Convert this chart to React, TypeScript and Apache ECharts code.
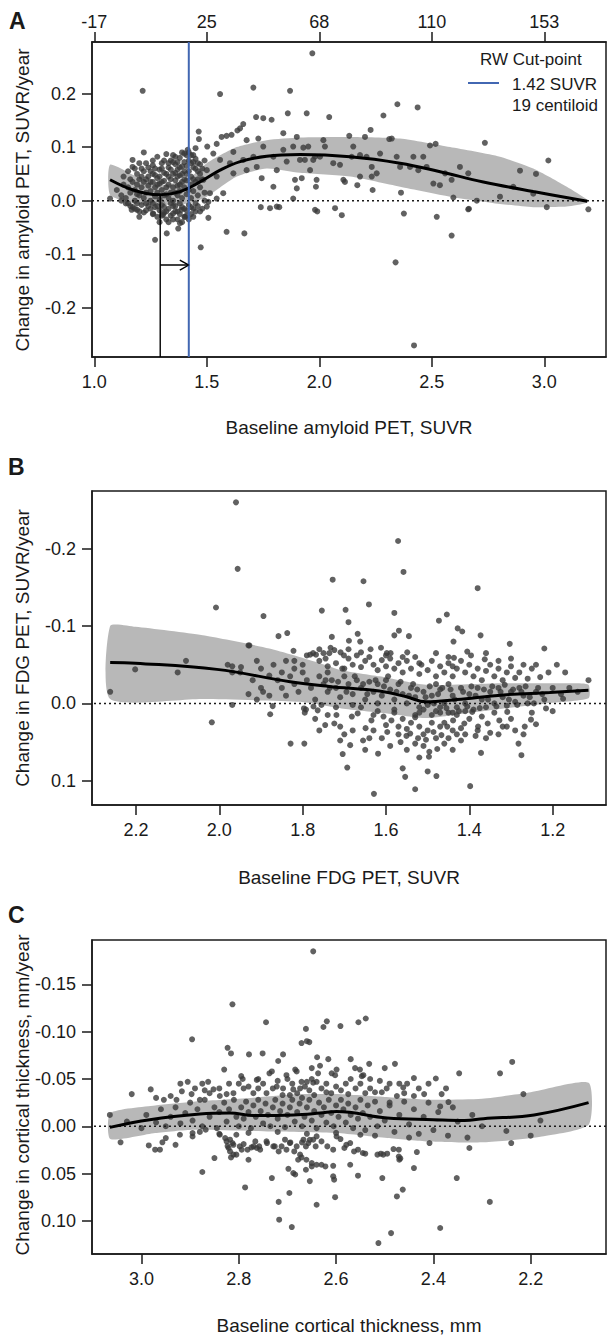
import React, { useEffect, useRef } from 'react';
import * as echarts from 'echarts';

// ---------- Panel A: amyloid PET ----------
const A_X_TICKS = [1.0, 1.5, 2.0, 2.5, 3.0];
const A_TOP_LABELS = ['-17', '25', '68', '110', '153'];
const A_Y_TICKS = [-0.2, -0.1, 0, 0.1, 0.2];
const A_X_RANGE = [0.9898, 3.2742];
const A_Y_RANGE = [-0.2916, 0.2961];
const CUTPOINT = 1.42;
const ARROW_X = 1.293;
const ARROW_TIP_Y = 0.0106;
const ARROW_H_Y = -0.12;

const A_POINTS = [
  [1.215, 0.205], [1.559, 0.199], [1.707, 0.211], [1.87, 0.205], [1.969, 0.275], [1.719, 0.156], [1.751, 0.154], [1.788, 0.151],
  [1.86, 0.163], [1.944, 0.163], [1.662, 0.143], [1.648, 0.135], [1.636, 0.131], [1.61, 0.123], [1.588, 0.121], [1.566, 0.119],
  [1.464, 0.129], [1.465, 0.115], [1.502, 0.101], [1.544, 0.106], [1.677, 0.113], [1.729, 0.116], [1.84, 0.126], [1.9, 0.119],
  [2.347, 0.18], [2.437, 0.174], [2.044, 0.156], [2.285, 0.159], [2.228, 0.132], [2.203, 0.119], [2.133, 0.121], [2.322, 0.116],
  [2.311, 0.115], [2.492, 0.103], [2.517, 0.106], [2.736, 0.108], [3.018, 0.075],
  [1.17, 0.076], [1.22, 0.09], [1.28, 0.082], [1.32, 0.087], [1.17, 0.063], [1.19, 0.05], [1.21, 0.06], [1.23, 0.07], [1.25, 0.055],
  [1.26, 0.066], [1.27, 0.048], [1.29, 0.058], [1.3, 0.07], [1.31, 0.052], [1.33, 0.062], [1.34, 0.075], [1.35, 0.05], [1.36, 0.068],
  [1.37, 0.058], [1.38, 0.08], [1.39, 0.064], [1.4, 0.072], [1.41, 0.085], [1.42, 0.09], [1.415, 0.095], [1.4, 0.055], [1.43, 0.07],
  [1.44, 0.062], [1.45, 0.078], [1.36, 0.082], [1.33, 0.045], [1.28, 0.042], [1.24, 0.045], [1.2, 0.04], [1.26, 0.075], [1.35, 0.072],
  [1.38, 0.047], [1.41, 0.05], [1.43, 0.045], [1.46, 0.055], [1.47, 0.068], [1.45, 0.098], [1.44, 0.085], [1.39, 0.09],
  [1.13, 0.045], [1.15, 0.055], [1.16, 0.04], [1.18, 0.06], [1.19, 0.012], [1.2, 0.07], [1.21, 0.045], [1.22, 0.055], [1.23, 0.04],
  [1.24, 0.062], [1.25, 0.035], [1.26, 0.05], [1.27, 0.06], [1.28, 0.03], [1.29, 0.045], [1.3, 0.06], [1.3, 0.035], [1.31, 0.075],
  [1.32, 0.05], [1.32, 0.012], [1.33, 0.07], [1.34, 0.04], [1.34, 0.058], [1.35, 0.085], [1.36, 0.052], [1.36, 0.015], [1.37, 0.045],
  [1.37, 0.072], [1.38, 0.062], [1.38, 0.03], [1.39, 0.05], [1.4, 0.04], [1.4, 0.088], [1.41, 0.065], [1.42, 0.075], [1.42, 0.055],
  [1.43, 0.085], [1.44, 0.04], [1.44, 0.072], [1.45, 0.06], [1.46, 0.07], [1.46, 0.04], [1.47, 0.05], [1.48, 0.06], [1.49, 0.075],
  [1.1, 0.02], [1.12, 0.01], [1.13, 0.03], [1.14, 0.005], [1.15, 0.025], [1.16, 0.015], [1.17, 0.035], [1.18, 0.0], [1.18, 0.02],
  [1.19, 0.03], [1.2, 0.01], [1.21, 0.025], [1.22, 0.005], [1.22, 0.035], [1.23, 0.015], [1.24, 0.028], [1.25, 0.0], [1.25, 0.018],
  [1.26, 0.035], [1.27, 0.008], [1.27, 0.025], [1.28, 0.015], [1.29, 0.032], [1.29, 0.002], [1.3, 0.02], [1.31, 0.01], [1.31, 0.037],
  [1.32, 0.025], [1.33, 0.005], [1.33, 0.03], [1.34, 0.015], [1.35, 0.025], [1.35, 0.0], [1.36, 0.038], [1.37, 0.01], [1.37, 0.028],
  [1.38, 0.018], [1.39, 0.035], [1.39, 0.005], [1.4, 0.025], [1.41, 0.012], [1.41, 0.038], [1.42, 0.02], [1.43, 0.03], [1.43, 0.005],
  [1.44, 0.018], [1.45, 0.035], [1.46, 0.01], [1.47, 0.025], [1.48, 0.04], [1.49, 0.015],
  [1.18, -0.015], [1.2, -0.02], [1.21, -0.008], [1.23, -0.018], [1.24, -0.01], [1.26, -0.025], [1.27, -0.012], [1.28, -0.03],
  [1.29, -0.018], [1.3, -0.008], [1.31, -0.022], [1.32, -0.035], [1.33, -0.015], [1.34, -0.028], [1.35, -0.01], [1.36, -0.02],
  [1.37, -0.035], [1.38, -0.025], [1.39, -0.012], [1.4, -0.03], [1.41, -0.018], [1.42, -0.008], [1.43, -0.025], [1.44, -0.015],
  [1.45, -0.005], [1.166, -0.017], [1.19, -0.017], [1.262, -0.024], [1.306, -0.026], [1.35, -0.024], [1.387, -0.017], [1.403, -0.03],
  [1.15, -0.005], [1.17, -0.012], [1.19, -0.005], [1.2, -0.03], [1.22, -0.022], [1.23, -0.005], [1.25, -0.015], [1.26, -0.005],
  [1.28, -0.01], [1.29, -0.04], [1.3, -0.028], [1.31, -0.012], [1.32, -0.02], [1.33, -0.04], [1.34, -0.005], [1.35, -0.035],
  [1.36, -0.01], [1.37, -0.02], [1.38, -0.005], [1.39, -0.04], [1.4, -0.015], [1.41, -0.028], [1.42, -0.035], [1.43, -0.012],
  [1.44, -0.03], [1.45, -0.02], [1.46, -0.01], [1.48, -0.015], [1.49, 0.0],
  [1.27, -0.073], [1.322, -0.061], [1.373, -0.052], [1.381, -0.042], [1.473, -0.087], [1.507, -0.032], [1.47, -0.02], [1.5, -0.011],
  [1.588, -0.058], [1.667, -0.061], [1.74, -0.012], [1.822, -0.012], [1.16, -0.01], [1.14, -0.005], [1.12, 0.0], [1.07, 0.004],
  [1.744, 0.042], [1.796, 0.026], [1.892, 0.039], [1.9, 0.023], [1.922, 0.042], [1.573, 0.014], [1.544, 0.004], [1.514, 0.014],
  [1.507, -0.002], [1.781, -0.014], [1.811, -0.011], [1.884, 0.004], [1.981, -0.017],
  [3.196, -0.016], [2.662, -0.016], [2.596, 0.006], [2.522, -0.03], [2.376, -0.024], [1.991, -0.02], [2.07, -0.014], [2.1, -0.027],
  [2.363, 0.015], [2.237, 0.02], [2.169, 0.029], [2.114, 0.035], [2.107, 0.039], [1.988, 0.039], [1.985, 0.026], [2.339, -0.115],
  [2.421, -0.27], [2.588, -0.065], [2.665, -0.015], [3.011, -0.012],
  [2.018, 0.113], [2.025, 0.101], [1.951, 0.101], [1.936, 0.076], [1.973, 0.076], [2.003, 0.082], [2.062, 0.07], [2.092, 0.067],
  [2.151, 0.101], [2.144, 0.082], [2.181, 0.085], [2.21, 0.082], [2.27, 0.088], [2.233, 0.063], [2.255, 0.051], [2.233, 0.045],
  [2.181, 0.045], [2.344, 0.082], [2.359, 0.063], [2.418, 0.082], [2.462, 0.082], [2.477, 0.063], [2.403, 0.063], [2.44, 0.057],
  [2.507, 0.032], [2.536, 0.029], [2.559, 0.051], [2.588, 0.039], [2.625, 0.063], [2.662, 0.051], [2.892, 0.056], [2.963, 0.05],
  [2.803, 0.0075], [2.862, 0.026], [2.951, 0.013], [2.7, 0.0],
  [1.529, 0.088], [1.618, 0.091], [1.662, 0.076], [1.707, 0.082], [1.751, 0.101], [1.796, 0.082], [1.811, 0.057], [1.855, 0.073],
  [1.884, 0.101], [1.914, 0.076], [1.959, 0.057], [1.981, 0.082], [1.929, 0.099], [1.84, 0.095], [1.722, 0.063], [1.677, 0.057],
  [1.603, 0.07], [1.559, 0.076], [1.5, 0.057], [1.485, 0.039], [1.544, 0.045], [1.618, 0.051]
];

const A_CURVE = [
  [1.07, 0.039], [1.173, 0.02], [1.292, 0.011], [1.381, 0.017], [1.47, 0.035], [1.559, 0.057], [1.648, 0.073], [1.766, 0.083],
  [1.914, 0.086], [2.137, 0.082], [2.359, 0.07], [2.537, 0.054], [2.729, 0.035], [2.951, 0.017], [3.191, -0.001]
];
const A_BAND_UPPER = [
  [1.07, 0.067], [1.173, 0.048], [1.292, 0.029], [1.42, 0.042], [1.5, 0.07], [1.633, 0.1], [1.766, 0.113], [1.914, 0.118],
  [2.137, 0.119], [2.359, 0.116], [2.581, 0.1], [2.803, 0.082], [2.951, 0.06], [3.1, 0.026], [3.19, 0.002]
];
const A_BAND_LOWER = [
  [1.07, 0.011], [1.173, -0.005], [1.292, -0.008], [1.42, -0.005], [1.5, 0.0075], [1.633, 0.045], [1.766, 0.06], [1.914, 0.052],
  [2.137, 0.045], [2.359, 0.026], [2.581, 0.0075], [2.803, -0.006], [2.951, -0.012], [3.1, -0.011], [3.19, -0.004]
];

// ---------- Panel B: FDG PET ----------
const B_X_TICKS = [2.2, 2.0, 1.8, 1.6, 1.4, 1.2];
const B_Y_TICKS = [-0.2, -0.1, 0, 0.1];
const B_X_RANGE = [1.072, 2.3056];
const B_Y_RANGE = [-0.2747, 0.1314];

const B_POINTS = [
  [1.96, -0.26], [1.956, -0.174], [2.008, -0.124], [1.894, -0.113], [1.858, -0.087], [1.837, -0.091], [1.822, -0.068], [1.93, -0.075],
  [1.782, -0.063], [1.768, -0.063], [1.571, -0.21], [1.558, -0.17], [1.728, -0.16], [1.654, -0.158], [1.38, -0.149], [1.754, -0.12],
  [1.697, -0.121], [1.641, -0.128], [1.69, -0.105], [1.58, -0.117], [1.473, -0.107], [1.454, -0.115], [1.73, -0.086], [1.668, -0.09],
  [1.662, -0.08], [1.689, -0.081], [1.58, -0.088], [1.569, -0.094], [1.545, -0.087], [1.428, -0.097], [1.417, -0.093], [1.438, -0.08],
  [1.373, -0.088], [1.303, -0.077], [1.22, -0.071], [1.637, -0.07], [1.612, -0.072], [1.598, -0.065], [1.589, -0.065], [1.549, -0.066],
  [1.75, -0.065], [1.736, -0.065], [1.733, -0.072], [1.724, -0.069], [1.709, -0.066], [1.701, -0.062], [1.45, -0.06], [1.437, -0.059],
  [1.405, -0.067], [1.396, -0.062], [1.363, -0.057],
  [1.69, -0.07], [1.66, -0.066], [1.6, -0.062], [1.56, -0.06], [1.52, -0.052], [1.48, -0.065], [1.44, -0.048], [1.36, -0.065],
  [1.33, -0.055], [1.3, -0.058], [1.27, -0.05], [1.24, -0.05], [1.19, -0.05], [1.17, -0.04], [1.76, -0.07], [1.82, -0.055], [1.8, -0.05],
  [2.262, -0.015], [2.202, -0.044], [2.018, 0.0245], [1.969, 0.002], [1.969, -0.048], [1.948, -0.047], [1.928, -0.075], [1.93, -0.012],
  [1.878, 0.014], [1.872, 0.0035], [1.829, 0.052], [1.796, 0.052], [1.795, 0.012], [1.792, 0.008],
  [1.704, 0.0655], [1.693, 0.083], [1.686, 0.054], [1.655, 0.048], [1.619, 0.065], [1.629, 0.117], [1.56, 0.084], [1.554, 0.095],
  [1.53, 0.111], [1.5, 0.088], [1.479, 0.094], [1.497, 0.069], [1.496, 0.0625], [1.477, 0.059], [1.398, 0.107], [1.372, 0.064],
  [1.282, 0.052], [1.275, 0.067], [1.267, 0.03], [1.252, 0.021], [1.216, 0.0065], [1.114, -0.03], [1.175, -0.006],
  [1.597, 0.037], [1.587, 0.022], [1.606, 0.017], [1.551, 0.042], [1.542, 0.039], [1.523, 0.045], [1.504, 0.047], [1.486, 0.037],
  [1.467, 0.041], [1.453, 0.03], [1.439, 0.022], [1.42, 0.032], [1.412, 0.026], [1.393, 0.011], [1.379, 0.03], [1.356, 0.026],
  [1.328, 0.022], [1.309, 0.011], [1.797, 0.0065], [1.774, 0.004], [1.764, 0.009], [1.755, 0.002], [1.746, 0.028], [1.724, 0.026],
  [1.71, 0.03], [1.719, 0.015], [1.682, 0.017], [1.668, 0.013], [1.649, 0.032], [1.635, 0.022], [1.63, 0.015],
  [1.66, 0.005], [1.62, 0.01], [1.6, 0.028], [1.58, 0.012], [1.57, 0.03], [1.565, 0.05], [1.54, 0.025], [1.53, 0.015], [1.52, 0.03],
  [1.51, 0.055], [1.49, 0.025], [1.48, 0.045], [1.47, 0.012], [1.46, 0.052], [1.45, 0.045], [1.44, 0.035], [1.43, 0.015], [1.42, 0.048],
  [1.41, 0.04], [1.4, 0.02], [1.385, 0.042], [1.37, 0.017], [1.35, 0.038], [1.34, 0.012], [1.32, 0.03], [1.3, 0.02], [1.29, 0.035],
  [1.25, 0.012], [1.24, 0.027], [1.2, 0.01], [1.7, 0.04], [1.74, 0.015], [1.77, 0.02], [1.65, 0.06], [1.61, 0.045], [1.59, 0.055],
  [1.55, 0.06], [1.52, 0.07], [1.44, 0.06], [1.53, 0.052],
  [1.63, 0.035], [1.57, 0.04], [1.5, 0.035], [1.46, 0.025], [1.43, 0.04], [1.38, 0.035], [1.36, 0.045], [1.33, 0.04], [1.31, 0.03],
  [1.27, 0.04], [1.56, 0.02], [1.64, 0.045], [1.68, 0.035], [1.71, 0.048], [1.76, 0.035], [1.51, 0.04], [1.47, 0.03], [1.55, 0.033],
  [1.79, -0.062], [1.775, -0.065], [1.76, -0.055], [1.745, -0.058], [1.74, -0.048], [1.72, -0.052], [1.705, -0.045], [1.69, -0.058],
  [1.68, -0.05], [1.67, -0.062], [1.66, -0.047], [1.65, -0.055], [1.64, -0.06], [1.63, -0.05], [1.62, -0.043], [1.61, -0.056],
  [1.6, -0.048], [1.59, -0.058], [1.58, -0.045], [1.57, -0.052], [1.56, -0.04], [1.55, -0.055], [1.54, -0.045], [1.53, -0.06],
  [1.52, -0.038], [1.515, -0.05], [1.5, -0.043], [1.49, -0.055], [1.48, -0.035], [1.47, -0.048], [1.46, -0.04], [1.45, -0.052],
  [1.44, -0.035], [1.43, -0.045], [1.42, -0.055], [1.41, -0.04], [1.4, -0.05], [1.39, -0.035], [1.38, -0.045], [1.37, -0.03],
  [1.36, -0.042], [1.35, -0.05], [1.34, -0.035], [1.33, -0.045], [1.32, -0.03], [1.31, -0.04], [1.3, -0.048], [1.29, -0.033],
  [1.28, -0.04], [1.26, -0.032], [1.25, -0.045], [1.23, -0.034], [1.21, -0.04], [1.82, -0.045], [1.85, -0.04], [1.87, -0.05],
  [1.88, -0.036], [1.9, -0.045], [1.91, -0.055], [1.84, -0.055],
  [2.1, -0.04], [2.08, -0.055], [1.98, -0.05], [1.95, -0.04], [1.92, -0.03], [1.9, -0.02], [1.88, -0.01], [1.86, -0.03],
  [1.85, -0.02], [1.84, -0.01], [1.83, -0.035], [1.82, -0.025], [1.81, -0.015], [1.8, -0.04], [1.79, -0.03], [1.78, -0.02],
  [1.77, -0.005], [1.76, -0.035], [1.75, -0.025], [1.74, -0.015], [1.73, -0.03], [1.72, -0.02], [1.71, -0.008], [1.7, -0.035],
  [1.69, -0.025], [1.68, -0.012], [1.67, -0.03], [1.66, -0.02], [1.65, -0.005], [1.64, -0.028], [1.63, -0.015], [1.62, -0.025],
  [1.61, -0.01], [1.6, -0.03], [1.59, -0.018], [1.58, -0.005], [1.57, -0.025], [1.56, -0.012], [1.55, 0.0], [1.54, -0.02],
  [1.53, -0.008], [1.52, 0.005], [1.51, -0.015], [1.5, 0.002], [1.49, -0.01], [1.48, 0.01], [1.47, -0.018], [1.46, 0.0],
  [1.45, 0.012], [1.44, -0.01], [1.43, 0.005], [1.42, -0.02], [1.41, 0.0], [1.4, -0.012], [1.39, 0.008], [1.38, -0.02],
  [1.37, -0.005], [1.36, 0.005], [1.35, -0.015], [1.34, 0.0], [1.33, -0.02], [1.32, -0.008], [1.31, 0.003], [1.3, -0.015],
  [1.29, -0.002], [1.28, -0.02], [1.27, -0.01], [1.26, 0.0], [1.24, -0.015], [1.22, -0.005], [1.2, -0.02], [1.18, -0.012],
  [1.16, -0.02], [1.14, -0.015], [1.62, 0.0], [1.58, 0.008], [1.52, 0.012], [1.48, -0.025], [1.45, -0.025], [1.68, 0.002],
  [1.7, -0.045], [1.74, -0.04], [1.72, 0.005], [1.969, -0.04], [1.91, -0.005], [1.895, -0.015],
  [1.745, -0.03], [1.735, -0.02], [1.715, -0.028], [1.695, -0.015], [1.675, -0.035], [1.655, -0.025], [1.645, -0.012], [1.625, -0.03],
  [1.605, -0.022], [1.595, -0.035], [1.575, -0.015], [1.565, -0.028], [1.545, -0.01], [1.535, -0.025], [1.525, -0.018], [1.505, -0.008],
  [1.495, -0.022], [1.485, 0.0], [1.475, -0.012], [1.465, -0.02], [1.455, 0.006], [1.445, -0.018], [1.435, -0.005], [1.425, 0.01],
  [1.415, -0.015], [1.405, 0.004], [1.395, -0.022], [1.385, -0.01], [1.375, 0.006], [1.365, -0.018], [1.355, -0.005], [1.345, -0.022],
  [1.335, 0.004], [1.325, -0.015], [1.315, -0.024], [1.305, -0.005], [1.295, -0.018], [1.285, 0.002], [1.275, -0.015], [1.265, -0.022],
  [1.255, -0.008], [1.245, 0.0], [1.235, -0.02], [1.225, -0.012], [1.53, 0.018], [1.51, 0.008], [1.49, 0.015], [1.47, 0.005],
  [1.44, 0.012], [1.41, 0.01]
];

const B_CURVE = [
  [2.262, -0.053], [2.201, -0.052], [2.006, -0.044], [1.83, -0.028], [1.737, -0.022], [1.616, -0.016], [1.551, -0.0085],
  [1.504, -0.002], [1.43, -0.005], [1.318, -0.011], [1.207, -0.014], [1.114, -0.017]
];
const B_BAND_UPPER = [
  [2.262, -0.1], [2.201, -0.099], [2.04, -0.088], [1.88, -0.071], [1.758, -0.052], [1.707, -0.043], [1.616, -0.035],
  [1.504, -0.024], [1.318, -0.026], [1.15, -0.026], [1.114, -0.024]
];
const B_BAND_LOWER = [
  [2.262, -0.0056], [2.04, -0.0056], [1.806, -0.002], [1.707, 0.0065], [1.597, 0.013], [1.504, 0.019], [1.412, 0.013],
  [1.318, 0.0065], [1.216, 0.0], [1.114, -0.0065]
];

// ---------- Panel C: cortical thickness ----------
const C_X_TICKS = [3.0, 2.8, 2.6, 2.4, 2.2];
const C_Y_TICKS = [-0.15, -0.1, -0.05, 0, 0.05, 0.1];
const C_X_RANGE = [2.0452, 3.1017];
const C_Y_RANGE = [-0.197, 0.1351];

const C_POINTS = [
  [2.647, -0.185], [2.813, -0.129], [2.744, -0.11], [2.896, -0.092], [2.662, -0.103], [2.823, -0.083], [2.816, -0.077], [2.779, -0.076],
  [2.751, -0.077], [2.709, -0.076], [2.719, -0.069], [2.655, -0.089], [3.02, -0.034], [2.981, -0.039], [2.954, -0.028], [2.905, -0.047],
  [2.875, -0.045], [2.863, -0.047], [2.83, -0.06], [2.763, -0.049], [2.795, -0.053], [2.792, -0.05], [2.737, -0.056], [2.732, -0.058],
  [2.702, -0.054], [2.684, -0.06], [2.681, -0.058], [2.671, -0.047], [2.66, -0.047], [2.647, -0.046], [2.65, -0.0615], [3.065, -0.012],
  [2.917, -0.037], [2.928, -0.028], [2.897, -0.034], [2.88, -0.028], [2.852, -0.039], [2.839, -0.032], [2.825, -0.034], [2.811, -0.035],
  [2.78, -0.042], [2.77, -0.035], [2.76, -0.04], [2.743, -0.035], [2.722, -0.042], [2.709, -0.04], [2.695, -0.033], [2.688, -0.039],
  [2.674, -0.04], [2.664, -0.042], [2.64, -0.047], [2.637, -0.056],
  [2.619, -0.111], [2.626, -0.105], [2.591, -0.106], [2.554, -0.11], [2.539, -0.114], [2.671, -0.088], [2.66, -0.09], [2.639, -0.073],
  [2.616, -0.071], [2.57, -0.071], [2.532, -0.066], [2.479, -0.066], [2.5, -0.0615], [2.561, -0.0615], [2.551, -0.06], [2.599, -0.06],
  [2.609, -0.056], [2.602, -0.054], [2.633, -0.064], [2.547, -0.053], [2.544, -0.054], [2.44, -0.051], [2.454, -0.045], [2.462, -0.041],
  [2.395, -0.0505], [2.347, -0.056], [2.263, -0.056], [2.238, -0.068], [2.374, -0.04], [2.383, -0.034], [2.419, -0.034], [2.496, -0.04],
  [2.506, -0.036], [2.475, -0.032],
  [2.69, -0.045], [2.68, -0.035], [2.67, -0.03], [2.655, -0.038], [2.645, -0.033], [2.63, -0.04], [2.62, -0.045], [2.61, -0.035],
  [2.6, -0.042], [2.59, -0.038], [2.58, -0.045], [2.575, -0.034], [2.56, -0.04], [2.55, -0.045], [2.54, -0.035], [2.53, -0.04],
  [2.52, -0.036], [2.51, -0.048], [2.49, -0.045], [2.46, -0.035], [2.43, -0.04], [2.7, -0.05], [2.72, -0.048], [2.75, -0.045],
  [2.79, -0.04], [2.8, -0.045], [2.84, -0.04], [2.86, -0.035], [2.89, -0.04], [2.94, -0.032],
  [2.73, -0.04], [2.71, -0.033], [2.65, -0.05], [2.62, -0.036], [2.57, -0.05], [2.53, -0.05], [2.47, -0.045], [2.44, -0.032],
  [2.41, -0.045], [2.76, -0.05], [2.82, -0.045], [2.87, -0.038], [2.92, -0.045], [2.97, -0.03],
  [3.03, -0.005], [3.0, 0.002], [2.99, -0.012], [2.97, -0.004], [2.96, -0.018], [2.95, 0.0], [2.94, -0.01], [2.93, -0.02],
  [2.92, -0.003], [2.91, -0.014], [2.9, -0.025], [2.895, -0.006], [2.885, -0.018], [2.875, 0.0], [2.87, -0.028], [2.86, -0.01],
  [2.85, -0.02], [2.845, 0.002], [2.84, -0.015], [2.83, -0.025], [2.825, -0.005], [2.82, -0.018], [2.81, -0.028], [2.805, -0.01],
  [2.8, 0.0], [2.795, -0.02], [2.79, -0.008], [2.785, -0.026], [2.78, -0.015], [2.775, 0.002], [2.77, -0.022], [2.765, -0.01],
  [2.76, -0.028], [2.755, -0.016], [2.75, -0.003], [2.745, -0.024], [2.74, -0.012], [2.735, 0.0], [2.73, -0.02], [2.725, -0.028],
  [2.72, -0.008], [2.715, -0.016], [2.71, -0.024], [2.705, 0.001], [2.7, -0.012], [2.695, -0.02], [2.69, -0.028], [2.685, -0.005],
  [2.68, -0.015], [2.675, -0.024], [2.67, 0.0], [2.665, -0.01], [2.66, -0.02], [2.655, -0.028], [2.65, -0.006], [2.645, -0.016],
  [2.64, 0.002], [2.635, -0.025], [2.63, -0.012], [2.625, -0.02], [2.62, -0.004], [2.615, -0.028], [2.61, -0.014], [2.605, 0.0],
  [2.6, -0.022], [2.595, -0.01], [2.59, -0.028], [2.585, -0.018], [2.58, -0.004], [2.575, -0.024], [2.57, -0.012], [2.565, 0.002],
  [2.56, -0.02], [2.555, -0.008], [2.55, -0.028], [2.545, -0.014], [2.54, 0.004], [2.535, -0.022], [2.53, -0.01], [2.52, -0.026],
  [2.515, 0.0], [2.51, -0.016], [2.5, -0.006], [2.49, -0.022], [2.48, 0.006], [2.47, -0.012], [2.46, -0.026], [2.45, -0.002],
  [2.44, -0.018], [2.43, 0.008], [2.42, -0.01], [2.41, -0.025], [2.4, 0.004], [2.39, -0.015], [2.37, 0.01], [2.36, -0.02],
  [2.35, -0.005], [2.33, 0.012], [2.32, -0.012], [2.3, 0.0], [2.25, 0.005], [2.2, 0.01], [2.18, -0.006], [2.88, 0.006],
  [2.84, 0.008], [2.78, 0.007], [2.72, 0.006], [2.66, 0.008], [2.6, 0.007], [2.55, 0.009], [2.52, 0.01], [2.45, 0.012],
  [2.215, -0.034], [2.369, -0.0256], [2.386, -0.021], [2.49, -0.025],
  [3.043, 0.017], [2.985, 0.0203], [2.972, 0.0248], [2.962, 0.0248], [2.957, 0.017], [2.95, 0.0125], [2.93, 0.0196], [2.921, 0.009],
  [2.895, 0.0072], [2.895, 0.0108], [2.875, 0.0484], [2.868, 0.0037], [2.85, 0.0336], [2.787, 0.0647], [2.78, 0.0354], [2.732, 0.0548],
  [2.718, 0.08], [2.717, 0.0988], [2.696, 0.0706], [2.691, 0.1066], [2.698, 0.045], [2.688, 0.0495], [2.684, 0.051], [2.654, 0.058],
  [2.64, 0.083], [2.662, 0.046], [2.65, 0.039], [2.63, 0.0407], [2.622, 0.0425], [2.606, 0.0418], [2.604, 0.0565], [2.606, 0.053],
  [2.602, 0.075], [2.571, 0.0407], [2.555, 0.0523], [2.505, 0.0548], [2.463, 0.067], [2.475, 0.0742], [2.44, 0.0442], [2.434, 0.0273],
  [2.487, 0.113], [2.513, 0.1235], [2.408, 0.0178], [2.386, 0.1076], [2.352, 0.0548], [2.326, 0.023], [2.284, 0.08], [2.24, 0.0178],
  [2.839, 0.009], [2.828, 0.0125], [2.825, 0.016], [2.818, 0.0142], [2.811, 0.0196], [2.805, 0.009], [2.798, 0.0213], [2.794, 0.0248],
  [2.823, 0.021], [2.818, 0.0266], [2.816, 0.033], [2.811, 0.03], [2.805, 0.03], [2.77, 0.0213], [2.763, 0.023], [2.756, 0.0248],
  [2.743, 0.016], [2.729, 0.0213], [2.712, 0.0213], [2.705, 0.0142], [2.695, 0.0178], [2.681, 0.0213], [2.667, 0.0142], [2.657, 0.0178],
  [2.647, 0.0142], [2.64, 0.0107], [2.678, 0.0354], [2.674, 0.03], [2.661, 0.0354], [2.671, 0.033], [2.65, 0.0425], [2.64, 0.0407],
  [2.579, 0.0196], [2.583, 0.023], [2.571, 0.0178], [2.563, 0.0266], [2.555, 0.0248], [2.545, 0.0283], [2.54, 0.029], [2.515, 0.03],
  [2.508, 0.029], [2.503, 0.03], [2.495, 0.029], [2.471, 0.032], [2.47, 0.0354], [2.468, 0.034], [2.471, 0.0248], [2.482, 0.0241],
  [2.821, 0.023], [2.813, 0.0178], [2.79, 0.0188], [2.782, 0.0248], [2.774, 0.0224], [2.766, 0.016], [2.758, 0.0213], [2.742, 0.0178],
  [2.726, 0.0213], [2.718, 0.0266], [2.702, 0.0248], [2.694, 0.0171], [2.686, 0.0266], [2.67, 0.0171], [2.662, 0.0213], [2.654, 0.0143],
  [2.642, 0.0213], [2.63, 0.016], [2.618, 0.0213], [2.606, 0.0248], [2.599, 0.0108], [2.591, 0.0135]
];

const C_CURVE = [
  [3.065, 0.0012], [2.983, -0.0069], [2.88, -0.0129], [2.818, -0.014], [2.77, -0.0114], [2.688, -0.012], [2.633, -0.014],
  [2.599, -0.0157], [2.495, -0.0087], [2.4, -0.007], [2.336, -0.0062], [2.297, -0.008], [2.193, -0.012], [2.081, -0.025]
];
const C_BAND_UPPER = [
  [3.064, -0.014], [2.972, -0.022], [2.893, -0.026], [2.8, -0.029], [2.674, -0.034], [2.6, -0.034], [2.5, -0.031], [2.4, -0.028],
  [2.3, -0.029], [2.2, -0.036], [2.081, -0.046]
];
const C_BAND_LOWER = [
  [3.064, 0.0135], [2.972, 0.0072], [2.893, 0.0037], [2.734, 0.0055], [2.599, 0.0072], [2.495, 0.0125], [2.415, 0.016],
  [2.296, 0.017], [2.177, 0.0108], [2.081, -0.0016]
];

// ---------- styles ----------
const INK = '#1a1a1a';
const DOT = '#3a3a3a';
const BAND = 'rgba(168,168,168,0.82)';
const BLUE = '#4267b2';
const FONT = "'Liberation Sans', Arial, Helvetica, sans-serif";

function xAxis(gridIndex: number, range: number[], ticks: number[], digits: number, inverse: boolean, extra: any = {}) {
  return {
    type: 'value', gridIndex, min: range[0], max: range[1], inverse,
    splitLine: { show: false },
    axisLine: { show: true, onZero: false, lineStyle: { color: INK, width: 1.5 } },
    axisTick: { show: true, length: 10, customValues: ticks, lineStyle: { color: INK, width: 1.5 } },
    axisLabel: {
      customValues: ticks, margin: 16, fontSize: 18, color: INK, fontFamily: FONT,
      formatter: (v: number) => v.toFixed(digits)
    },
    ...extra
  };
}

function yAxis(gridIndex: number, range: number[], ticks: number[], digits: number, inverse: boolean) {
  return {
    type: 'value', gridIndex, min: range[0], max: range[1], inverse,
    splitLine: { show: false },
    axisLine: { show: true, onZero: false, lineStyle: { color: INK, width: 1.5 } },
    axisTick: { show: true, length: 10, customValues: ticks, lineStyle: { color: INK, width: 1.5 } },
    axisLabel: {
      customValues: ticks, margin: 16, fontSize: 18, color: INK, fontFamily: FONT,
      formatter: (v: number) => (Math.abs(v) < 1e-9 ? 0 : v).toFixed(digits)
    }
  };
}

function scatter(xi: number, yi: number, data: number[][]) {
  return { type: 'scatter', xAxisIndex: xi, yAxisIndex: yi, data, symbolSize: 6, itemStyle: { color: DOT }, silent: true };
}
function zeroLine(xi: number, yi: number, range: number[]) {
  return {
    type: 'line', xAxisIndex: xi, yAxisIndex: yi, data: [[range[0], 0], [range[1], 0]], symbol: 'none', silent: true,
    lineStyle: { color: INK, width: 1.5, type: [2, 3] }
  };
}
function band(xi: number, yi: number, upper: number[][], lower: number[][]) {
  return {
    type: 'custom', xAxisIndex: xi, yAxisIndex: yi, data: [upper[0]], silent: true,
    renderItem: (_p: any, api: any) => {
      const pts = upper.map((p) => api.coord(p)).concat(lower.slice().reverse().map((p) => api.coord(p)));
      return { type: 'polygon', shape: { points: pts, smooth: 0.2 }, style: { fill: BAND } };
    }
  };
}
function curve(xi: number, yi: number, data: number[][]) {
  return {
    type: 'line', xAxisIndex: xi, yAxisIndex: yi, data, smooth: 0.4, symbol: 'none', silent: true,
    lineStyle: { color: '#000', width: 3 }
  };
}
function segment(xi: number, yi: number, data: number[][], color: string, width: number) {
  return { type: 'line', xAxisIndex: xi, yAxisIndex: yi, data, symbol: 'none', silent: true, lineStyle: { color, width } };
}

function buildOption() {
  const gridBase = { left: 92, width: 514, show: true, borderColor: INK, borderWidth: 1.5, backgroundColor: 'transparent' };
  return {
    animation: false,
    backgroundColor: '#ffffff',
    grid: [
      { ...gridBase, top: 42, height: 315 },
      { ...gridBase, top: 491, height: 314 },
      { ...gridBase, top: 940, height: 314 }
    ],
    xAxis: [
      xAxis(0, A_X_RANGE, A_X_TICKS, 1, false),
      xAxis(0, A_X_RANGE, A_X_TICKS, 1, false, {
        position: 'top',
        axisLabel: {
          customValues: A_X_TICKS, margin: 11, fontSize: 18, color: INK, fontFamily: FONT,
          formatter: (v: number) => {
            const i = A_X_TICKS.findIndex((t) => Math.abs(t - v) < 1e-6);
            return i >= 0 ? A_TOP_LABELS[i] : '';
          }
        }
      }),
      xAxis(1, B_X_RANGE, B_X_TICKS, 1, true),
      xAxis(2, C_X_RANGE, C_X_TICKS, 1, true)
    ],
    yAxis: [
      yAxis(0, A_Y_RANGE, A_Y_TICKS, 1, false),
      yAxis(1, B_Y_RANGE, B_Y_TICKS, 1, true),
      yAxis(2, C_Y_RANGE, C_Y_TICKS, 2, true)
    ],
    series: [
      scatter(0, 0, A_POINTS),
      zeroLine(0, 0, A_X_RANGE),
      band(0, 0, A_BAND_UPPER, A_BAND_LOWER),
      curve(0, 0, A_CURVE),
      segment(0, 0, [[CUTPOINT, A_Y_RANGE[0]], [CUTPOINT, A_Y_RANGE[1]]], BLUE, 2),
      segment(0, 0, [[ARROW_X, A_Y_RANGE[0]], [ARROW_X, ARROW_TIP_Y]], '#000', 1.4),
      segment(0, 0, [[ARROW_X, ARROW_H_Y], [CUTPOINT, ARROW_H_Y]], '#000', 1.4),
      scatter(2, 1, B_POINTS),
      zeroLine(2, 1, B_X_RANGE),
      band(2, 1, B_BAND_UPPER, B_BAND_LOWER),
      curve(2, 1, B_CURVE),
      scatter(3, 2, C_POINTS),
      zeroLine(3, 2, C_X_RANGE),
      band(3, 2, C_BAND_UPPER, C_BAND_LOWER),
      curve(3, 2, C_CURVE)
    ]
  };
}

function text(str: string, x: number, y: number, size: number, opts: any = {}) {
  return {
    type: 'text', x, y, rotation: opts.rotation || 0, silent: true,
    style: {
      text: str, fill: INK, font: `${opts.bold ? 'bold ' : ''}${size}px ${FONT}`,
      textAlign: opts.align || 'center', textVerticalAlign: 'middle'
    }
  };
}

function buildGraphics(chart: any) {
  const tipV = chart.convertToPixel({ seriesIndex: 0 }, [ARROW_X, ARROW_TIP_Y]);
  const tipH = chart.convertToPixel({ seriesIndex: 0 }, [CUTPOINT, ARROW_H_Y]);
  const headStyle = { stroke: '#000', lineWidth: 1.4, fill: 'none' };
  return [
    { type: 'polyline', silent: true, shape: { points: [[tipV[0] - 5, tipV[1] + 9], [tipV[0], tipV[1]], [tipV[0] + 5, tipV[1] + 9]] }, style: headStyle },
    { type: 'polyline', silent: true, shape: { points: [[tipH[0] - 9, tipH[1] - 5], [tipH[0], tipH[1]], [tipH[0] - 9, tipH[1] + 5]] }, style: headStyle },
    text('A', 9, 21, 23, { bold: true, align: 'left' }),
    text('B', 8, 467, 23, { bold: true, align: 'left' }),
    text('C', 8, 915, 23, { bold: true, align: 'left' }),
    text('Baseline amyloid PET, SUVR', 349, 427, 19),
    text('Baseline FDG PET, SUVR', 349, 877, 19),
    text('Baseline cortical thickness, mm', 349, 1325, 19),
    text('Change in amyloid PET, SUVR/year', 22, 200, 19, { rotation: Math.PI / 2 }),
    text('Change in FDG PET, SUVR/year', 22, 648, 19, { rotation: Math.PI / 2 }),
    text('Change in cortical thickness, mm/year', 22, 1095, 19, { rotation: Math.PI / 2 }),
    text('RW Cut-point', 480, 59, 17, { align: 'left' }),
    { type: 'line', silent: true, shape: { x1: 468, y1: 83, x2: 499, y2: 83 }, style: { stroke: BLUE, lineWidth: 2 } },
    text('1.42 SUVR', 512, 84, 17, { align: 'left' }),
    text('19 centiloid', 512, 105, 17, { align: 'left' })
  ];
}

export default function App() {
  const ref = useRef<HTMLDivElement>(null);
  useEffect(() => {
    document.body.style.margin = '0';
    const chart = echarts.init(ref.current as HTMLDivElement, null, { renderer: 'svg' });
    chart.setOption(buildOption() as any);
    chart.setOption({ graphic: buildGraphics(chart) } as any);
    return () => chart.dispose();
  }, []);
  return <div ref={ref} style={{ width: 607, height: 1336 }} />;
}
